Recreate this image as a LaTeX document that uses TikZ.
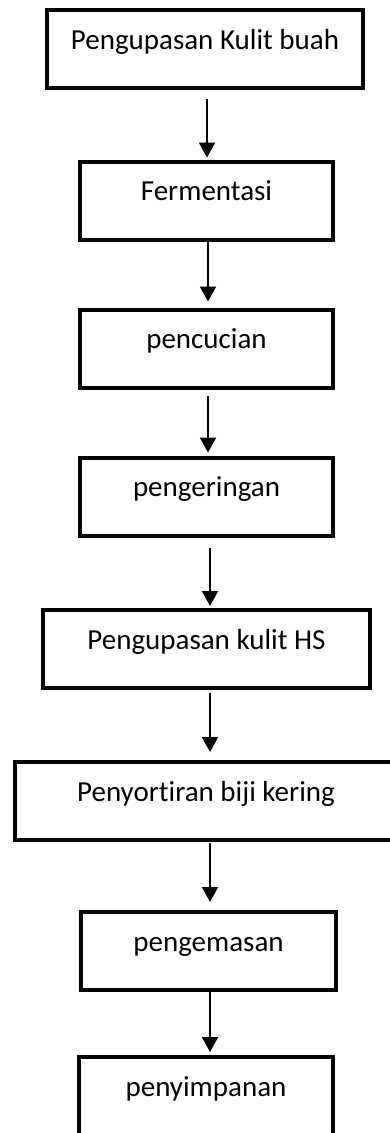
\documentclass[tikz,border=0pt]{standalone}
\usepackage{fontspec}
\setmainfont[RawFeature={-liga;-dlig;-clig}]{Carlito}
\usetikzlibrary{arrows.meta}
\begin{document}
\begin{tikzpicture}[x=1pt,y=-1pt,
  stepbox/.style={draw, line width=4pt, inner sep=0pt, text height=39pt, text depth=39pt,
    font=\fontsize{29}{34}\selectfont, anchor=center},
  arr/.style={line width=2pt, -{Triangle[width=16pt,length=15pt]}}]
\useasboundingbox (0,0) rectangle (390,1133);
\clip (0,0) rectangle (390,1133);
\node[stepbox, minimum width=316pt] (n1) at (205,49) {Pengupasan Kulit buah};
\node[stepbox, minimum width=253pt] (n2) at (206.5,200.5) {Fermentasi};
\node[stepbox, minimum width=253pt] (n3) at (206.5,348.5) {pencucian};
\node[stepbox, minimum width=253pt] (n4) at (206.5,496.5) {pengeringan};
\node[stepbox, minimum width=327pt] (n5) at (206.5,649) {Pengupasan kulit HS};
\node[stepbox, minimum width=382pt] (n6) at (206,801) {Penyortiran biji kering};
\node[stepbox, minimum width=255pt] (n7) at (208.5,951) {pengemasan};
\node[stepbox, minimum width=254pt] (n8) at (206,1096) {penyimpanan};
\draw[arr, shorten <=9pt, shorten >=2pt] ([xshift=2pt]n1.south) -- ([xshift=2pt]n1.south |- n2.north);
\draw[arr, shorten <=0pt, shorten >=6pt] ([xshift=1.5pt]n2.south) -- ([xshift=1.5pt]n2.south |- n3.north);
\draw[arr, shorten <=6pt, shorten >=3pt] ([xshift=1.5pt]n3.south) -- ([xshift=1.5pt]n3.south |- n4.north);
\draw[arr, shorten <=10pt, shorten >=2pt] ([xshift=3.5pt]n4.south) -- ([xshift=3.5pt]n4.south |- n5.north);
\draw[arr, shorten <=3pt, shorten >=8pt] ([xshift=3.5pt]n5.south) -- ([xshift=3.5pt]n5.south |- n6.north);
\draw[arr, shorten <=1pt, shorten >=8pt] ([xshift=4pt]n6.south) -- ([xshift=4pt]n6.south |- n7.north);
\draw[arr, shorten <=0pt, shorten >=3pt] ([xshift=1.5pt]n7.south) -- ([xshift=1.5pt]n7.south |- n8.north);
\end{tikzpicture}
\end{document}
